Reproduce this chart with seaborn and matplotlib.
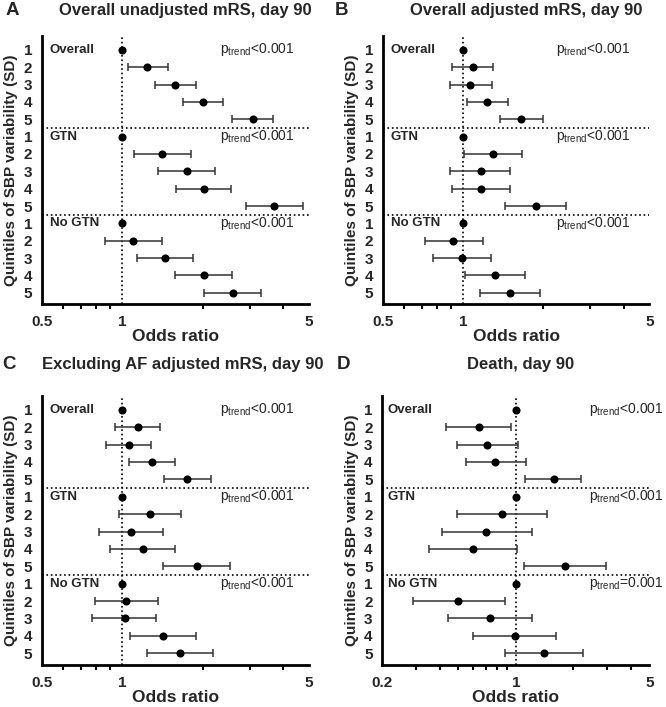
import numpy as np
import pandas as pd
import matplotlib
matplotlib.use("Agg")
import matplotlib.pyplot as plt
import seaborn as sns

sns.set_theme(style="white")
plt.rcParams["font.family"] = ["Liberation Sans", "DejaVu Sans"]

groups = ["Overall", "GTN", "No GTN"]
quintiles = ["1", "2", "3", "4", "5"]

# odds ratios with 95% CI, rows: Overall q1-5, GTN q1-5, No GTN q1-5
a_or = [1, 1.24, 1.57, 2.01, 3.08, 1, 1.41, 1.75, 2.02, 3.70, 1, 1.10, 1.44, 2.02, 2.59]
a_lo = [1, 1.05, 1.33, 1.69, 2.58, 1, 1.11, 1.36, 1.59, 2.90, 1, 0.86, 1.13, 1.57, 2.02]
a_hi = [1, 1.48, 1.89, 2.38, 3.68, 1, 1.80, 2.23, 2.56, 4.76, 1, 1.41, 1.84, 2.57, 3.31]

b_or = [1, 1.09, 1.065, 1.23, 1.65, 1, 1.30, 1.17, 1.17, 1.87, 1, 0.915, 0.99, 1.32, 1.50]
b_lo = [1, 0.91, 0.89, 1.03, 1.37, 1, 1.01, 0.89, 0.91, 1.43, 1, 0.72, 0.77, 1.02, 1.16]
b_hi = [1, 1.30, 1.28, 1.47, 1.99, 1, 1.67, 1.50, 1.50, 2.44, 1, 1.19, 1.27, 1.71, 1.95]

c_or = [1, 1.14, 1.06, 1.29, 1.75, 1, 1.27, 1.08, 1.19, 1.90, 1, 1.03, 1.02, 1.42, 1.65]
c_lo = [1, 0.94, 0.87, 1.06, 1.43, 1, 0.97, 0.82, 0.90, 1.42, 1, 0.79, 0.77, 1.07, 1.24]
c_hi = [1, 1.38, 1.28, 1.57, 2.15, 1, 1.66, 1.42, 1.57, 2.54, 1, 1.36, 1.34, 1.88, 2.18]

d_or = [1, 0.64, 0.71, 0.78, 1.58, 1, 0.85, 0.70, 0.60, 1.81, 1, 0.50, 0.73, 0.99, 1.41]
d_lo = [1, 0.43, 0.49, 0.55, 1.12, 1, 0.49, 0.41, 0.35, 1.10, 1, 0.29, 0.44, 0.60, 0.88]
d_hi = [1, 0.94, 1.03, 1.13, 2.19, 1, 1.45, 1.22, 1.02, 2.96, 1, 0.88, 1.22, 1.62, 2.26]

p_abc = ["<0.001", "<0.001", "<0.001"]
p_d = ["<0.001", "<0.001", "=0.001"]

panels = [
    ("A", "Overall unadjusted mRS, day 90", a_or, a_lo, a_hi, p_abc, 0.5),
    ("B", "Overall adjusted mRS, day 90", b_or, b_lo, b_hi, p_abc, 0.5),
    ("C", "Excluding AF adjusted mRS, day 90", c_or, c_lo, c_hi, p_abc, 0.5),
    ("D", "Death, day 90", d_or, d_lo, d_hi, p_d, 0.2),
]

fig = plt.figure(figsize=(6.66, 7.07), dpi=100)

# axes boxes [left, bottom, width, height]
boxes = [
    [0.063, 0.570, 0.401, 0.379],
    [0.575, 0.570, 0.400, 0.379],
    [0.063, 0.060, 0.401, 0.380],
    [0.574, 0.060, 0.401, 0.380],
]
letter_pos = [(0.008, 0.985), (0.503, 0.985), (0.003, 0.484), (0.505, 0.484)]
title_pos = [(0.278, 0.985), (0.790, 0.985), (0.274, 0.484), (0.781, 0.484)]
ptext_x = [0.667, 0.65, 0.667, 0.775]

for i, (letter, title, ors, los, his, ps, xmin) in enumerate(panels):
    ax = fig.add_axes(boxes[i])
    df = pd.DataFrame({
        "row": np.arange(1, 16),
        "or": ors,
        "lo": los,
        "hi": his,
    })
    ci = df[df["lo"] != df["hi"]]
    ax.errorbar(ci["or"], ci["row"],
                xerr=[ci["or"] - ci["lo"], ci["hi"] - ci["or"]],
                fmt="none", ecolor="#333333", elinewidth=1.1,
                capsize=3, capthick=1.1, zorder=2)
    sns.scatterplot(data=df, x="or", y="row", ax=ax, color="black",
                    s=34, edgecolor="black", linewidth=0, zorder=3)

    ax.set_xscale("log")
    ax.set_xlim(xmin, 5)
    ax.set_ylim(15.65, 0.2)
    ax.axvline(1, color="black", ls=":", lw=1.2, zorder=1)
    for yy in [5.5, 10.5]:
        ax.axhline(yy, color="black", ls=":", lw=1.2, zorder=1)

    ax.set_xticks([xmin, 1, 5])
    ax.set_xticklabels([f"{xmin:g}", "1", "5"])
    if xmin == 0.2:
        minors = [0.3, 0.4, 0.5, 0.6, 0.7, 0.8, 0.9, 2, 3, 4]
    else:
        minors = [0.6, 0.7, 0.8, 0.9, 2, 3, 4]
    ax.set_xticks(minors, minor=True)
    ax.set_xticklabels([], minor=True)
    ax.set_yticks(np.arange(1, 16))
    ax.set_yticklabels(quintiles * 3)

    for side in ["top", "right"]:
        ax.spines[side].set_visible(False)
    for side in ["left", "bottom"]:
        ax.spines[side].set_linewidth(2)
        ax.spines[side].set_color("black")
    ax.tick_params(axis="both", which="major", direction="out", length=6,
                   width=2, color="black", labelsize=11, pad=2)
    ax.tick_params(axis="x", which="minor", direction="out", length=3.5,
                   width=1.5, color="black", bottom=True)
    ax.tick_params(axis="y", which="major", pad=1)
    for lab in ax.get_xticklabels() + ax.get_yticklabels():
        lab.set_fontweight("bold")

    ax.set_xlabel("Odds ratio", fontsize=12.5, fontweight="bold", labelpad=0)
    ax.set_ylabel("Quintiles of SBP variability (SD)", fontsize=11,
                  fontweight="bold", labelpad=4)

    for g, name in enumerate(groups):
        ax.text(xmin * 1.07, 1 + 5 * g, name, fontsize=9.5, fontweight="bold",
                va="center", ha="left")
        ax.text(ptext_x[i], 1 + 5 * g, r"$\mathregular{p_{trend}}$" + ps[g],
                transform=ax.get_yaxis_transform(), fontsize=10,
                va="center", ha="left", clip_on=False)

    fig.text(letter_pos[i][0], letter_pos[i][1], letter, fontsize=13.5,
             fontweight="bold", va="center", ha="left")
    fig.text(title_pos[i][0], title_pos[i][1], title, fontsize=12,
             fontweight="bold", va="center", ha="center")

fig.savefig("out.png", dpi=100)
